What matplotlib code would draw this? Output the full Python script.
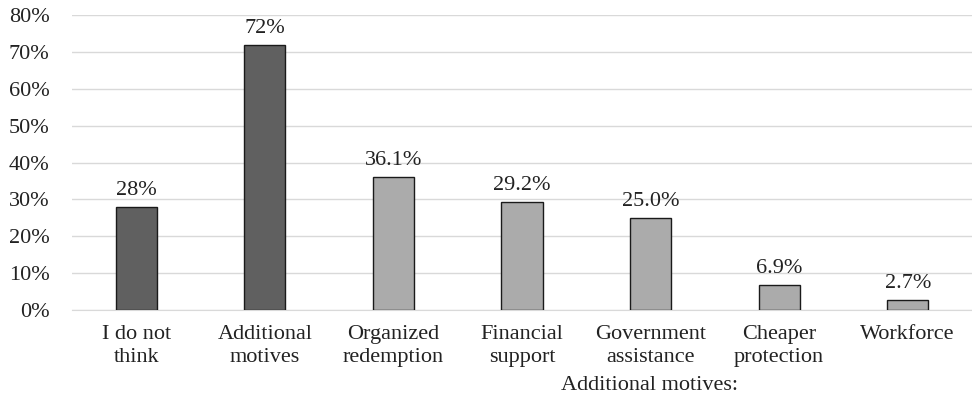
import numpy as np
import matplotlib.pyplot as plt
from matplotlib.ticker import PercentFormatter

# survey shares per answer
categories = ['I do not\nthink', 'Additional\nmotives', 'Organized\nredemption',
              'Financial\nsupport', 'Government\nassistance', 'Cheaper\nprotection',
              'Workforce']
values = [28, 72, 36.1, 29.2, 25.0, 6.9, 2.7]
labels = ['28%', '72%', '36.1%', '29.2%', '25.0%', '6.9%', '2.7%']
colors = ['#606060', '#606060', '#ABABAB', '#ABABAB', '#ABABAB', '#ABABAB', '#ABABAB']

plt.rcParams['font.family'] = 'Liberation Serif'
fs = 16

fig = plt.figure(figsize=(9.72, 4.0), dpi=100)
ax = fig.add_axes([0.074, 0.225, 0.926, 0.7375])

x = np.arange(len(categories))
ax.bar(x, values, width=0.32, color=colors, edgecolor='#1a1a1a', linewidth=1.0, zorder=3)

for xi, v, lab in zip(x, values, labels):
    ax.annotate(lab, (xi, v), xytext=(0, 5), textcoords='offset points',
                ha='center', va='bottom', fontsize=fs, color='#222222')

ax.set_xlim(-0.5, len(categories) - 0.5)
ax.set_ylim(0, 80)
ax.set_yticks(np.arange(0, 81, 10))
ax.yaxis.set_major_formatter(PercentFormatter(decimals=0))
ax.set_xticks(x)
ax.set_xticklabels(categories, linespacing=1.25)
ax.grid(axis='y', color='#D9D9D9', linewidth=1.0, zorder=0)
for s in ['top', 'right', 'left']:
    ax.spines[s].set_visible(False)
ax.spines['bottom'].set_color('#D9D9D9')
ax.tick_params(length=0, colors='#222222', labelsize=fs)
ax.tick_params(axis='x', pad=11)
ax.tick_params(axis='y', pad=16)

fig.text(0.668, 0.035, 'Additional motives:', ha='center', va='center', fontsize=fs, color='#222222')

fig.savefig('out.png')
